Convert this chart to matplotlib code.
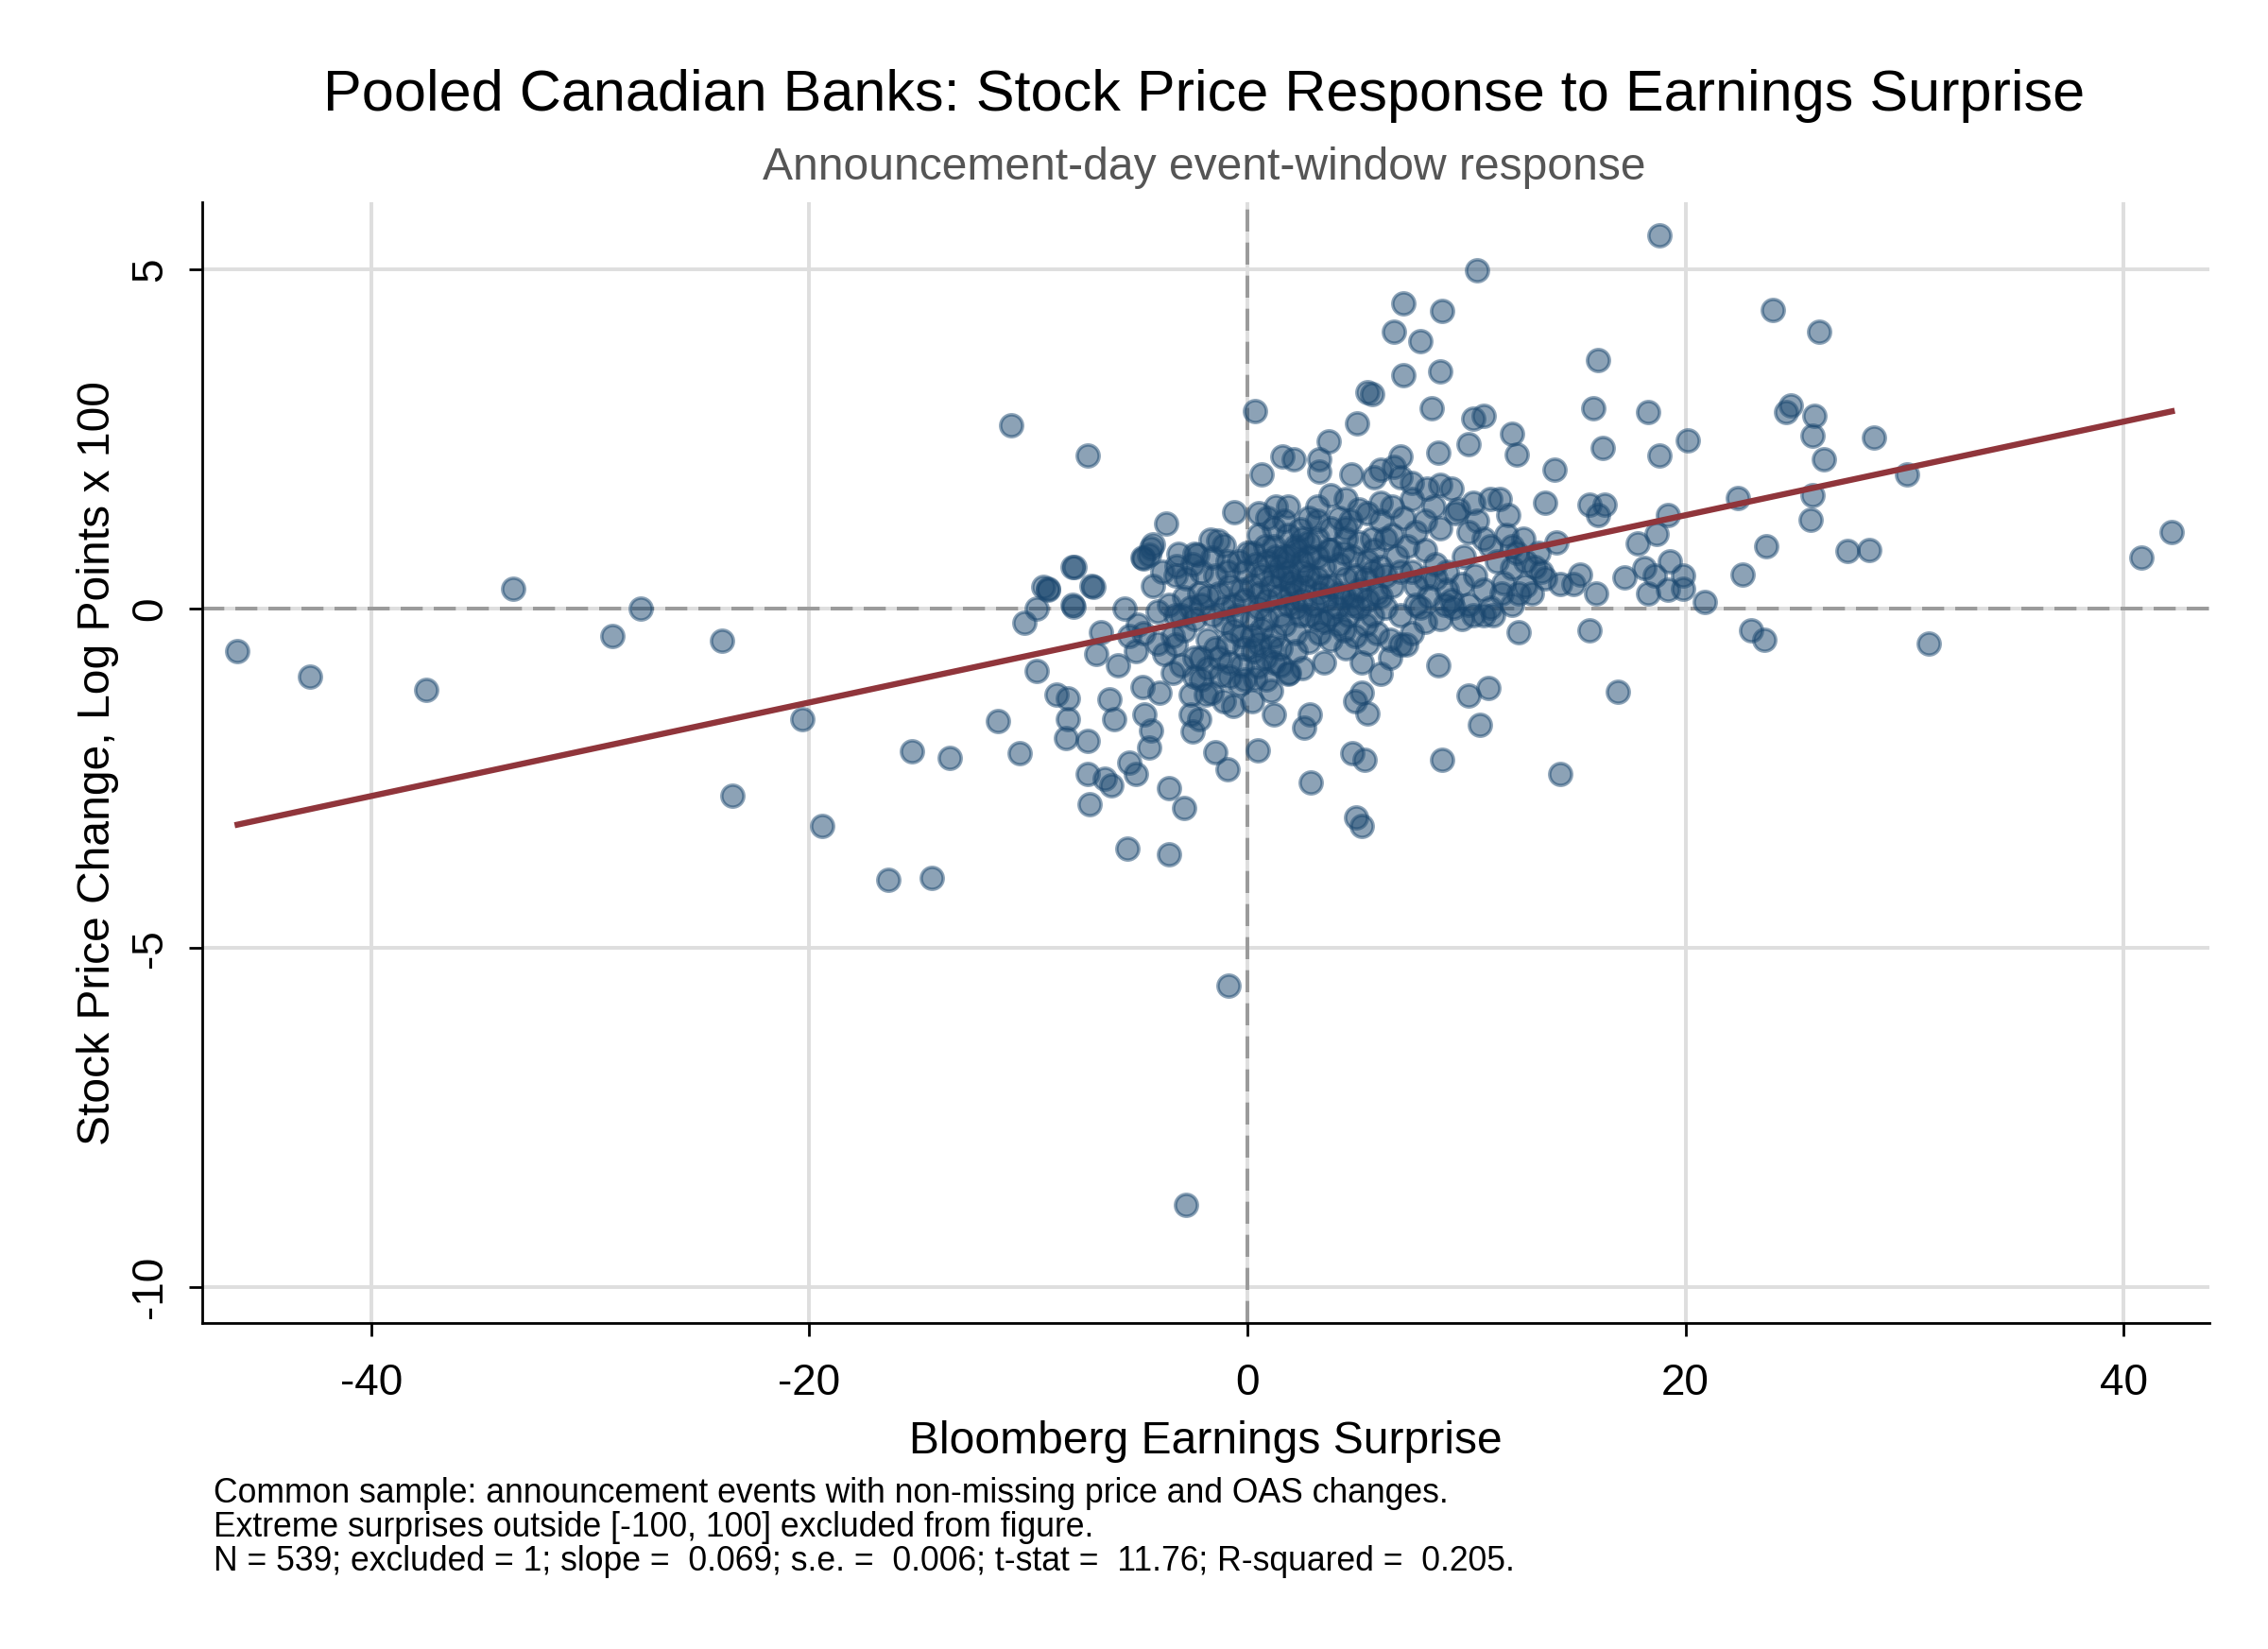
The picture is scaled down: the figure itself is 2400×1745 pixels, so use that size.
import numpy as np
import matplotlib.pyplot as plt

plt.rcParams['font.family'] = ['Liberation Sans', 'DejaVu Sans']
plt.rcParams['axes.unicode_minus'] = False

# surprise (x) and price change (y)
outer_x = [-46.1, -42.8, -37.5, -33.5, -29.0, -27.7, -24.0, -23.5, -20.3, -19.4, -16.4, -14.4,
           -15.3, -13.6, -10.8, -11.4, -10.4, -7.3, -10.2, -9.6, -9.3, -9.1, -9.6, -8.0, -8.0,
           -8.7, -8.2, -8.2, -8.3, -7.3, -7.3, -7.2, -6.5, -6.2, -7.1, -6.7, -6.9, -6.3, -6.1,
           -5.9, -5.5, -5.4, -5.1, -5.6, -5.0, -4.8, -4.5, -4.4, -3.7, -3.6, -3.6, -2.9, -2.8,
           -0.86, -4.7, -4.4, -4.5, -4.8, -4.0, -3.8, -3.3, -2.6, -2.5, -2.2, -2.4, -2.1, -2.6,
           -1.45, -0.92, 0.46, -0.66, -0.33, -1.65, -1.25, 0.33, 0.66, -0.6, -1.7, -1.06, -2.4,
           -3.17, -2.5, -1.6, -0.9,
           -4.3, -4.75, -3.25, -2.3, -1.35, -7.9, -7.05, -9.1, -7.95]
outer_y = [-0.62, -1.0, -1.19, 0.30, -0.40, 0.0, -0.47, -2.75, -1.62, -3.2, -4.0, -3.97,
           -2.1, -2.2, 2.7, -1.66, -2.13, 2.26, -0.2, 0.0, 0.32, 0.28, -0.92, 0.62, 0.06,
           -1.26, -1.32, -1.62, -1.9, -1.94, -2.43, -2.88, -2.5, -2.6, 0.34, -0.34, -0.66, -1.34, -1.62,
           -0.83, -3.54, -2.26, -2.43, 0.0, -0.23, 0.75, 0.8, 0.9, 1.26, -3.62, -2.64, -2.94, -8.78,
           -5.56, -1.56, -1.8, -2.05, -1.15, -1.24, -0.66, -0.53, -1.56, -1.81, -1.62, -1.0, -0.72, -1.26,
           -2.11, -2.37, -2.09, -1.43, -1.11, -1.24, -0.98, 2.92, 1.98, 1.43, 1.02, 0.94, 0.81,
           0.81, 0.66, 0.75, 0.7,
           0.95, 0.74, 0.63, 0.8, 1.0, 0.62, 0.33, 0.3, 0.03]

right_x = [0.33, 0.46, 1.06, 1.2, 1.2, 1.85, 1.06, 2.6, 2.84, 2.9, 1.9, 4.8, 5.35, 4.95, 5.2,
           4.9, 5.2, 5.5, 6.1, 5.2, 7.0, 7.26, 8.7, 8.9, 10.1, 10.6, 11.0, 12.4, 14.3, 15.6,
           16.9, 23.0, 23.6, 31.1, 18.8, 10.5, 7.1, 8.9, 6.7, 7.9, 7.1, 8.8, 5.5, 5.7, 8.4,
           5.0, 3.7, 10.3, 10.8, 12.1, 12.3, 8.7, 7.0, 10.1, 16.0, 15.8, 18.3, 16.2, 18.8,
           20.1, 23.98, 26.1, 24.8, 24.6, 25.9, 25.8, 26.3, 28.6, 30.1, 25.8, 25.7, 27.4,
           28.4, 23.7, 22.6, 22.4, 20.9, 19.9, 19.9, 19.2, 19.3, 18.7, 19.2, 18.3, 18.1,
           18.6, 17.8, 17.2, 16.3, 16.0, 15.6, 15.9, 15.2, 14.9, 14.3, 14.1, 14.0, 13.6,
           13.6, 40.8, 42.2]
right_y = [-1.02, -0.85, -1.21, -1.56, -0.79, -0.96, -0.55, -1.75, -1.56, -2.56, -0.94, -2.13,
           -2.22, -3.07, -3.2, -1.36, -1.24, -1.54, -0.96, -0.79, -0.53, -0.53, -0.83, -2.22,
           -1.28, -1.71, -1.17, -0.34, -2.43, -0.32, -1.22, -0.32, -0.45, -0.51, 5.5, 4.99,
           4.5, 4.39, 4.09, 3.94, 3.45, 3.5, 3.2, 3.16, 2.96, 2.73, 2.47, 2.81, 2.84, 2.58,
           2.28, 2.3, 2.24, 2.43, 3.67, 2.96, 2.9, 2.37, 2.26, 2.49, 4.41, 4.09, 3.0, 2.9,
           2.84, 2.56, 2.2, 2.52, 1.98, 1.68, 1.32, 0.85, 0.87, 0.92, 0.51, 1.64, 0.1, 0.49,
           0.3, 0.28, 0.7, 1.1, 1.39, 0.23, 0.6, 0.49, 0.96, 0.47, 1.54, 1.39, 1.54, 0.23,
           0.51, 0.36, 0.36, 0.98, 2.05, 1.56, 0.45, 0.75, 1.13]

core_x = [1.6, 2.1, 3.3, 3.3, 3.8, 4.5, 4.75, 5.8, 6.1, 6.7, 7.0, 7.5, 8.2, 8.8, 9.3, 9.6,
          10.3, 11.1, 11.5, 11.9, 12.3, 12.7, 13.1, 12.1, 11.7, 12.4, 12.7, 11.1, 10.8, 11.2,
          10.8, 10.1, 9.8, 9.4, 9.0, 9.1, 10.4, 9.9, 10.1, 11.1, 11.4, 8.6, 8.1, 7.7, 8.1,
          8.8, 7.1, 6.6, 6.1, 6.3, 5.7, 5.1, 4.7, 4.2, 4.5, 3.8, 3.2, 2.8, 2.4, 1.85, 1.3,
          0.9, 0.5, 1.2, 1.7, 2.2, 2.8, 3.5, 4.2, 4.8, 5.5, 6.1, 6.8, 7.5, 8.1, 6.6, 5.9,
          5.1, 4.5, 3.8, 3.2, 2.5, 1.85, 1.2, 0.66, 0.2, -0.26, -0.8, -1.3, -1.8, -2.2,
          -2.9, -3.6, -4.1, -3.0, -2.4, -1.6, -1.1, -0.66, -0.26, -0.92, -1.45, -1.8, 0.2,
          0.5, 0.9, 1.45, 2.0, 2.5, 3.0, 3.6, 4.1, 4.6, 5.1, 5.7, 6.3, 7.0, 7.7, 8.3, 0.66,
          1.2, 1.7, 2.2, 2.8, 3.3, 3.8, 4.4, 4.9, 5.4, 5.9, 6.5, 7.5, 8.1, 8.8, 0.26, 0.8,
          -0.26, -0.8, -1.3, -1.8, -2.4, -3.0, -3.4, -2.9, -4.1, -4.75, -5.4, -5.1, -4.3,
          -3.9, -3.3, -2.8, -2.1, -1.45, -0.9, -0.4, 0.0, 0.4, 0.9, 1.45, 2.0, 2.6, 3.3,
          4.4, 4.9, 5.4, 5.7, 6.3, 7.0, 7.7, 8.6, 9.1, 7.3, 6.6, 5.8, 5.1, 4.5, 3.8, 3.2,
          2.5, 1.85, 1.2, 0.5, 1.7, 3.2, 5.5, 6.1, 7.5, 8.5, 9.5, 10.5, 10.8, 11.8, 12.1,
          12.6, 13.3, 13.4, 13.0, 12.1, 11.6, 10.3, 9.8, 9.3, 7.9, 6.1, 5.5, 4.8, 3.8, 3.2,
          2.4, 1.5, 0.86, 0.2, -0.13, 0.5, 1.5, 2.2, 4.5, 5.5, 6.5, 0.86, -0.13, -0.8,
          -2.1, -3.4, -1.9, -1.1, 0.2, 1.5, 2.5, 3.5, -0.46, -0.13, -0.66, -1.1, -2.1,
          -2.6, -3.3, 0.5, 1.06, 1.6, 2.2, 2.8, 3.5, 4.2, 4.8, 1.85, 2.2, 2.8, 3.5, 4.2,
          1.85, 2.5, 3.2, 3.7, 4.4, 2.8, 2.2, 1.3, 0.8, 0.26, -0.13]
core_y = [2.24, 2.2, 2.2, 2.03, 1.68, 1.62, 1.98, 1.94, 2.05, 2.09, 1.94, 1.85, 1.77, 1.83,
          1.77, 1.47, 1.56, 1.62, 1.62, 1.39, 0.83, 0.7, 0.62, 0.6, 0.38, 0.23, 0.34, 0.02,
          -0.09, -0.09, 0.28, 0.06, 0.36, 0.02, 0.06, 0.28, 0.49, 0.77, 1.13, 0.92, 0.7,
          0.66, 0.87, 1.13, 1.3, 1.19, 1.34, 1.51, 1.3, 1.04, 1.04, 1.47, 1.3, 1.34, 1.04,
          0.87, 1.51, 1.34, 1.17, 1.51, 1.51, 1.34, 1.09, 0.92, 0.77, 0.87, 0.77, 0.62,
          0.66, 0.77, 0.7, 0.62, 0.77, 0.55, 0.45, 0.34, 0.23, 0.28, 0.45, 0.34, 0.45, 0.55,
          0.55, 0.49, 0.49, 0.34, 0.28, 0.34, 0.23, 0.19, 0.23, 0.17, 0.06, -0.04, -0.09,
          -0.15, -0.09, -0.19, -0.32, -0.4, -0.51, -0.58, -0.45, -0.15, 0.02, 0.13, 0.19,
          0.23, 0.13, 0.06, 0.13, 0.02, -0.09, 0.02, -0.09, 0.02, -0.09, 0.06, 0.19, -0.3,
          -0.4, -0.23, -0.36, -0.49, -0.36, -0.45, -0.32, -0.4, -0.23, -0.36, -0.45, -0.36,
          -0.19, -0.15, -0.62, -0.72, -0.83, -0.79, -0.72, -0.87, -0.72, -0.83, -0.4, -0.32,
          -0.51, -0.36, -0.4, -0.62, 0.34, 0.55, 0.49, 0.45, 0.55, 0.49, 0.55, 0.7, 0.83,
          0.66, 0.7, 0.62, 0.4, 0.34, 0.23, 0.19, 0.49, 0.45, 0.55, 0.49, 0.55, 0.34, 0.45,
          0.55, 0.92, 1.09, 0.87, 0.98, 1.19, 1.19, 1.04, 1.04, 1.09, 1.19, 1.41, 1.3, 1.3,
          1.41, 1.56, 1.62, 1.51, 1.41, 1.3, 1.04, 1.09, 0.92, 1.04, 0.83, 0.55, 0.23, 0.06,
          0.23, -0.09, -0.15, 0.13, 0.02, 0.19, 0.13, 0.06, -0.09, -0.15, -0.09, -0.09,
          -0.15, -0.4, -0.58, -0.51, -0.58, -0.62, -0.58, -0.51, -0.72, -1.04, -1.04, -1.0,
          -1.04, -0.94, -1.26, -1.36, -1.36, -0.83, -0.87, -0.79, -0.09, 0.13, 0.06, 0.02,
          0.06, 0.02, -0.09, 0.23, 0.34, 0.45, 0.34, 0.49, 0.34, 0.23, 0.19, 0.06, 0.02,
          -0.09, -0.19, -0.23, 0.77, 0.7, 0.77, 0.87, 0.83, 0.98, 0.92, 0.77, 0.92, 0.83,
          0.55]

surprise = np.array(outer_x + right_x + core_x)
price_chg = np.array(outer_y + right_y + core_y)

fit_intercept = 0.0
fit_slope = 0.069

notes = ["Common sample: announcement events with non-missing price and OAS changes.",
         "Extreme surprises outside [-100, 100] excluded from figure.",
         "N = 539; excluded = 1; slope =  0.069; s.e. =  0.006; t-stat =  11.76; R-squared =  0.205."]

fig = plt.figure(figsize=(12, 8.725), dpi=200)
ax = fig.add_axes([0.0893, 0.1976, 0.8847, 0.6796])

ax.set_xlim(-47.7, 43.9)
ax.set_ylim(-10.53, 5.99)
ax.set_xticks([-40, -20, 0, 20, 40])
ax.set_yticks([-10, -5, 0, 5])
ax.grid(True, color='#dedede', lw=1.4)
ax.set_axisbelow(True)

ax.axvline(0, color='#9a9a9a', lw=1.4, dashes=(6, 3), zorder=1)
ax.axhline(0, color='#9a9a9a', lw=1.4, dashes=(6, 3), zorder=1)

ax.scatter(surprise, price_chg, s=70, color='#1a476f', alpha=0.5,
           edgecolors='#1a476f', linewidths=1.3, zorder=2)

xs = np.array([surprise.min(), surprise.max()])
ax.plot(xs, fit_intercept + fit_slope * xs, color='#90353b', lw=2.3, zorder=3)

for s in ['top', 'right']:
    ax.spines[s].set_visible(False)
ax.spines['left'].set_linewidth(1.0)
ax.spines['bottom'].set_linewidth(1.0)
ax.tick_params(axis='both', labelsize=16.5, length=5, width=1.0)
ax.tick_params(axis='x', pad=10)
ax.tick_params(axis='y', pad=7)
for lab in ax.get_yticklabels():
    lab.set_rotation(90)
    lab.set_va('center')

ax.set_xlabel('Bloomberg Earnings Surprise', fontsize=17.3, labelpad=6)
ax.set_ylabel('Stock Price Change, Log Points x 100', fontsize=17.3, labelpad=4)

fig.text(0.531, 0.942, 'Pooled Canadian Banks: Stock Price Response to Earnings Surprise',
         ha='center', va='center', fontsize=22)
fig.text(0.531, 0.898, 'Announcement-day event-window response',
         ha='center', va='center', fontsize=17.3, color='#555555')

for i, line in enumerate(notes):
    fig.text(0.094, 0.094 - i * 0.0206, line, ha='left', va='center', fontsize=12.8)

fig.savefig('out.png', dpi=200)
